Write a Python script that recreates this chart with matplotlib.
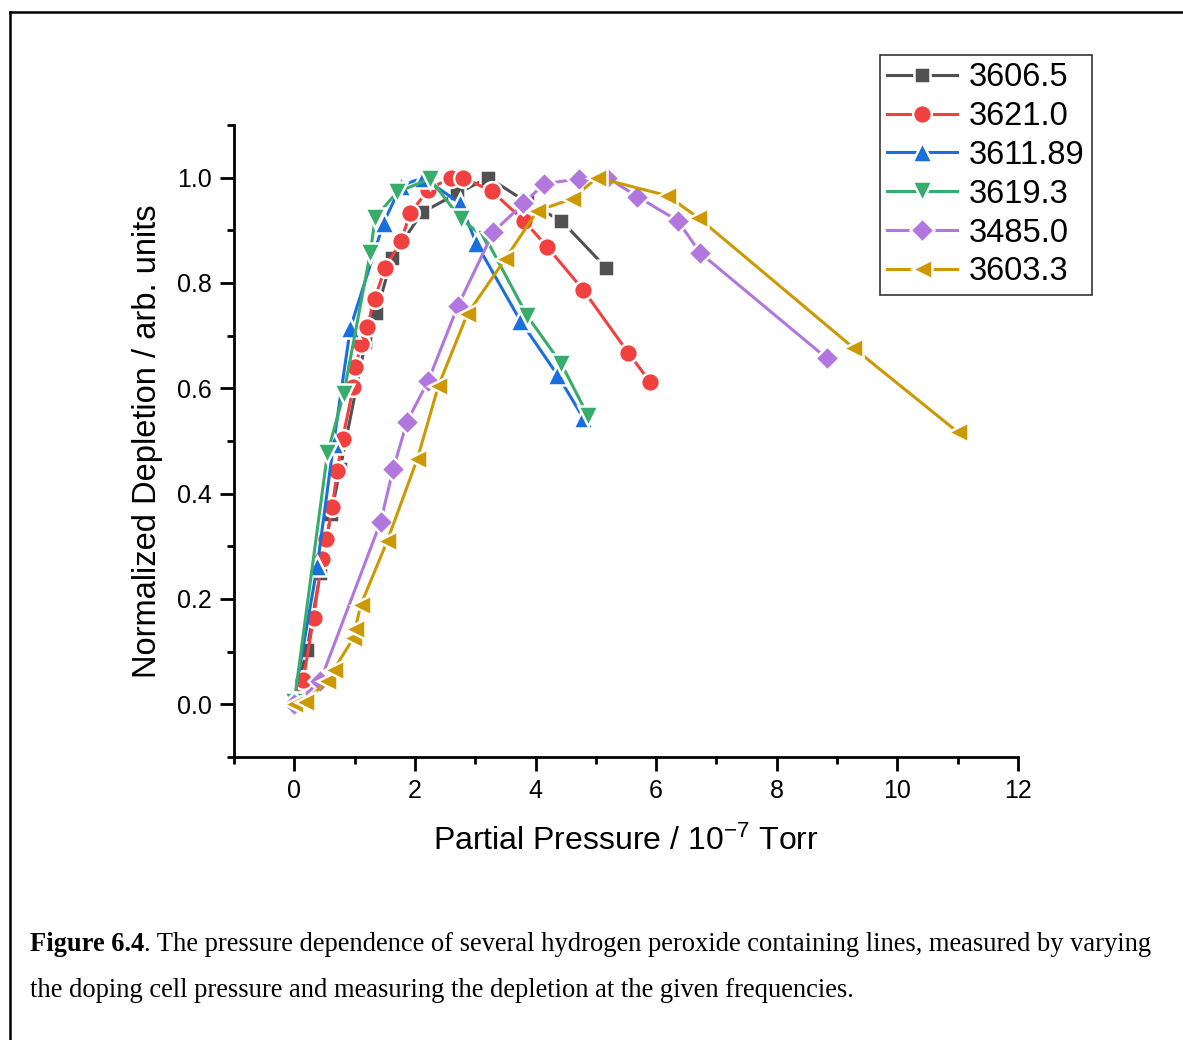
import matplotlib
matplotlib.use("Agg")
import matplotlib.pyplot as plt
from matplotlib.lines import Line2D

plt.rcParams['font.family'] = ['Liberation Sans', 'DejaVu Sans']
plt.rcParams['mathtext.default'] = 'regular'

# data
x_3606 = [0.0, 0.21, 0.43, 0.61, 0.76, 1.18, 1.36, 1.62, 1.79, 2.12, 2.70, 3.22, 3.86, 4.43, 5.17]
y_3606 = [0.01, 0.103, 0.249, 0.361, 0.447, 0.688, 0.743, 0.848, 0.878, 0.934, 0.970, 1.0, 0.953, 0.918, 0.829]

x_3621 = [0.0, 0.15, 0.32, 0.46, 0.53, 0.63, 0.71, 0.80, 0.98, 1.01, 1.11, 1.21, 1.33, 1.51, 1.77,
          1.92, 2.22, 2.59, 2.80, 3.28, 3.81, 4.19, 4.79, 5.54, 5.90]
y_3621 = [0.005, 0.047, 0.164, 0.276, 0.314, 0.374, 0.443, 0.504, 0.603, 0.640, 0.684, 0.717, 0.770,
          0.829, 0.880, 0.932, 0.977, 1.0, 1.0, 0.974, 0.918, 0.869, 0.787, 0.667, 0.612]

x_3611 = [0.0, 0.38, 0.65, 0.93, 1.48, 1.77, 2.14, 2.75, 3.02, 3.75, 4.36, 4.79]
y_3611 = [0.012, 0.262, 0.494, 0.715, 0.914, 0.985, 1.0, 0.951, 0.875, 0.728, 0.626, 0.544]

x_3619 = [0.0, 0.55, 0.82, 1.26, 1.34, 1.70, 2.25, 2.76, 3.18, 3.86, 4.43, 4.87]
y_3619 = [0.005, 0.477, 0.590, 0.857, 0.924, 0.972, 0.998, 0.922, 0.884, 0.738, 0.646, 0.548]

x_3485 = [0.0, 0.43, 1.43, 1.64, 1.87, 2.22, 2.71, 3.30, 3.80, 4.14, 4.72, 5.19, 5.69, 6.36, 6.73, 8.83]
y_3485 = [0.0, 0.044, 0.346, 0.447, 0.537, 0.614, 0.756, 0.897, 0.951, 0.988, 0.998, 1.0, 0.964,
          0.918, 0.857, 0.657]

x_3603 = [0.0, 0.18, 0.55, 0.65, 0.98, 1.01, 1.10, 1.54, 2.04, 2.39, 2.87, 3.50, 4.03, 4.61, 5.02,
          6.18, 6.70, 9.27, 11.0]
y_3603 = [0.0, 0.005, 0.045, 0.065, 0.126, 0.143, 0.188, 0.310, 0.466, 0.605, 0.741, 0.846, 0.937,
          0.960, 1.0, 0.966, 0.924, 0.677, 0.517]

labels = ["3606.5", "3621.0", "3611.89", "3619.3", "3485.0", "3603.3"]
colors = ["#515151", "#F14040", "#1A6FDF", "#37AD6B", "#B177DE", "#CC9900"]
markers = ["s", "o", "^", "v", "D", "<"]
sizes = [12, 13.5, 14, 14, 12, 14]

series = [(x_3606, y_3606), (x_3621, y_3621), (x_3611, y_3611),
          (x_3619, y_3619), (x_3485, y_3485), (x_3603, y_3603)]

fig = plt.figure(figsize=(11.83, 10.4), dpi=100)
ax = fig.add_axes([234 / 1183, 1 - 757 / 1040, (1018 - 234) / 1183, (757 - 125) / 1040])

for (x, y), lab, c, m, s in zip(series, labels, colors, markers, sizes):
    ax.plot(x, y, color=c, marker=m, markersize=s, lw=2.2,
            markeredgecolor="white", markeredgewidth=1.8, label=lab)

ax.set_xlim(-1, 12)
ax.set_ylim(-0.1, 1.1)
ax.set_xticks([0, 2, 4, 6, 8, 10, 12])
ax.set_xticks([-1, 1, 3, 5, 7, 9, 11], minor=True)
ax.set_yticks([0.0, 0.2, 0.4, 0.6, 0.8, 1.0])
ax.set_yticks([-0.1, 0.1, 0.3, 0.5, 0.7, 0.9, 1.1], minor=True)
ax.set_yticklabels(["0.0", "0.2", "0.4", "0.6", "0.8", "1.0"])

for side in ["top", "right"]:
    ax.spines[side].set_visible(False)
for side in ["left", "bottom"]:
    ax.spines[side].set_linewidth(2)
ax.tick_params(which="major", direction="out", length=10, width=2, labelsize=18, pad=6)
ax.tick_params(which="minor", direction="out", length=5, width=2)

ax.set_xlabel("Partial Pressure / 10$^{-7}$ Torr", fontsize=23, labelpad=16)
ax.set_ylabel("Normalized Depletion / arb. units", fontsize=23.5, labelpad=10)

leg = ax.legend(loc="upper left", bbox_to_anchor=(880 / 1183, 1 - 55 / 1040),
                bbox_transform=fig.transFigure, fontsize=23.5, frameon=True, fancybox=False,
                edgecolor="black", handlelength=2.15, handletextpad=0.35, labelspacing=0.24,
                borderpad=0.22, borderaxespad=0)
leg.get_frame().set_linewidth(1.2)

# page frame
fig.add_artist(Line2D([9.5 / 1183, 9.5 / 1183], [0, 1 - 12 / 1040], color="black", lw=1.8,
                      transform=fig.transFigure))
fig.add_artist(Line2D([9.5 / 1183, 1], [1 - 12 / 1040, 1 - 12 / 1040], color="black", lw=1.8,
                      transform=fig.transFigure))

# caption
cap_font = dict(family=["Liberation Serif", "DejaVu Serif"], fontsize=19.1)
bold = fig.text(30 / 1183, 1 - 951 / 1040, "Figure 6.4", fontweight="bold", va="baseline", **cap_font)
fig.canvas.draw()
bb = bold.get_window_extent()
fig.text(bb.x1 / 1183, 1 - 951 / 1040,
         ". The pressure dependence of several hydrogen peroxide containing lines, measured by varying",
         va="baseline", **cap_font)
fig.text(30 / 1183, 1 - 997 / 1040,
         "the doping cell pressure and measuring the depletion at the given frequencies.",
         va="baseline", **cap_font)

fig.savefig("out.png", dpi=100)
